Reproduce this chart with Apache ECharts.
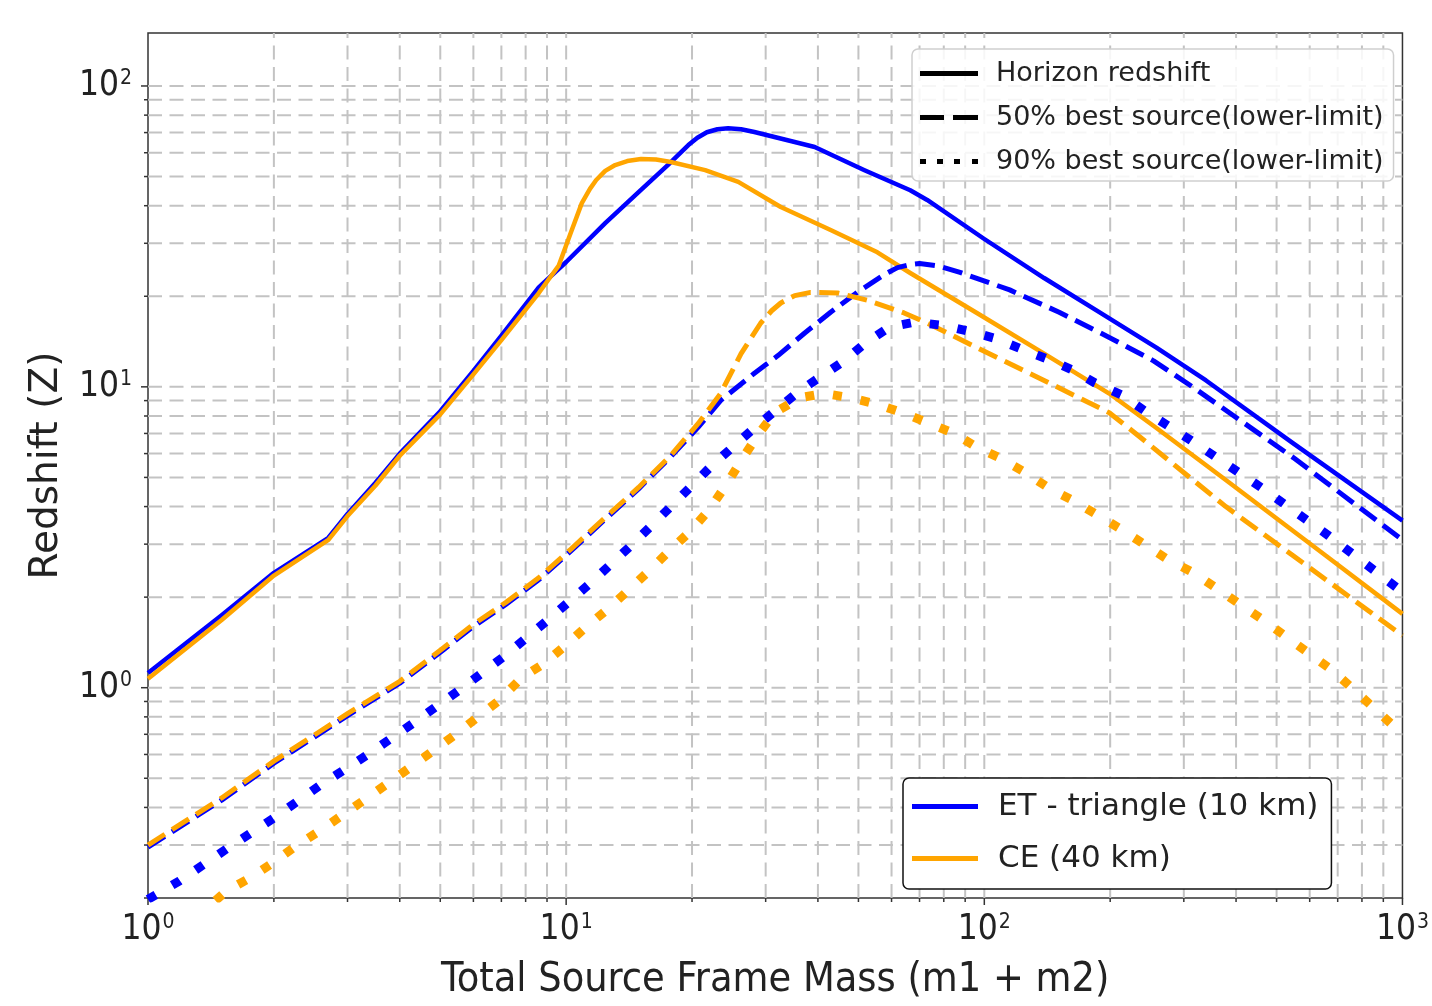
<!DOCTYPE html>
<html>
<head>
<meta charset="utf-8">
<script src="https://cdn.jsdelivr.net/npm/echarts@6/dist/echarts.min.js"></script>
<style>
html,body{margin:0;padding:0;background:#ffffff;}
#chart{width:1432px;height:1006px;}
</style>
</head>
<body>
<div id="chart"></div>
<script>
// ---------------- data ----------------
const X_MIN = 1, X_MAX = 1000, Y_MIN = 0.2, Y_MAX = 150;

// ET - triangle (10 km), horizon redshift (solid)
const etHorizonMass = [1, 1.5, 2, 2.7, 3, 3.5, 4, 5, 6, 7, 8.6, 10, 12.4, 14.9, 17.5, 19.6, 20.6, 21.7, 23, 24.4, 26.2, 28.2, 39.3, 51.7, 66.5, 73, 100, 139, 185, 258, 339, 547, 1000];
const etHorizonZ    = [1.12, 1.74, 2.41, 3.15, 3.78, 4.8, 6.0, 8.3, 11.3, 14.8, 21.4, 26, 35, 44.4, 54.6, 63.6, 67.3, 70.2, 71.8, 72.4, 71.8, 70.3, 62.7, 52.5, 45, 41.8, 31, 23, 18, 13.5, 10.5, 6.5, 3.59];

// CE (40 km), horizon redshift (solid)
const ceHorizonMass = [1, 1.5, 2, 2.7, 3, 3.5, 4, 5, 6, 7, 8.6, 9.15, 9.6, 10.3, 10.9, 11.4, 11.8, 12.4, 13.1, 14.0, 15.1, 16.4, 17.8, 21.5, 25.8, 32.6, 42.9, 55.5, 66.5, 96, 139, 199, 258, 378, 655, 1000];
const ceHorizonZ    = [1.07, 1.68, 2.36, 3.1, 3.72, 4.7, 5.9, 8.1, 11.0, 14.3, 20.5, 23.1, 25.3, 33, 40.8, 45.5, 48.7, 52.2, 54.6, 56.3, 57.2, 57.0, 55.9, 52.5, 48.0, 39.6, 33.2, 28, 23.9, 17.6, 12.9, 9.5, 7.3, 4.9, 2.75, 1.76];

// ET, 50% best source (dashed)
const et50Mass = [1, 1.5, 2, 3, 4, 5.1, 5.95, 7.17, 8.6, 10.3, 12.4, 14.9, 17.8, 20.7, 23.4, 28.2, 32.1, 37.2, 42.9, 49.7, 57.6, 62, 66.5, 70, 78, 87.5, 115, 151, 199, 254, 316, 547, 1000];
const et50Z    = [0.295, 0.423, 0.561, 0.808, 1.035, 1.34, 1.585, 1.89, 2.285, 2.86, 3.63, 4.58, 5.86, 7.35, 9.0, 11.1, 12.7, 15.1, 17.7, 20.6, 23.6, 24.9, 25.5, 25.7, 25.2, 24.0, 21.0, 17.7, 14.6, 12.2, 9.96, 5.83, 3.1];

// CE, 50% best source (dashed)
const ce50Mass = [1, 1.5, 2, 3, 4, 5.1, 5.95, 7.17, 8.6, 10.3, 12.4, 14.9, 17.8, 20.7, 23.4, 26.2, 29.2, 31.0, 32.6, 35.2, 38.4, 44.6, 52.5, 64.3, 73, 96, 139, 199, 230, 378, 655, 1000];
const ce50Z    = [0.30, 0.43, 0.57, 0.82, 1.05, 1.36, 1.61, 1.92, 2.32, 2.9, 3.68, 4.63, 5.92, 7.56, 9.5, 12.9, 16.3, 17.9, 19.0, 20.1, 20.6, 20.5, 19.4, 17.6, 16.3, 13.5, 10.5, 8.2, 7.0, 4.0, 2.29, 1.49];

// ET, 90% best source (dotted)
const et90Mass = [1, 1.19, 1.54, 2.0, 2.57, 3.32, 4.29, 5.54, 7.1, 9.0, 11.4, 14.3, 17.8, 22.2, 25, 28.2, 35.8, 46.2, 52, 59.3, 68, 80, 92, 106, 122, 141, 162, 184, 213, 241, 312, 459, 666, 1000];
const et90Z    = [0.198, 0.228, 0.291, 0.369, 0.472, 0.594, 0.759, 0.98, 1.27, 1.67, 2.22, 2.97, 4.0, 5.44, 6.3, 7.3, 9.6, 12.2, 14.0, 15.8, 16.4, 16.0, 15.3, 14.5, 13.4, 12.4, 11.4, 10.3, 9.4, 8.35, 6.64, 4.63, 3.2, 2.08];

// CE, 90% best source (dotted)
const ce90Mass = [1.45, 1.54, 1.75, 1.99, 2.26, 2.57, 3.32, 4.29, 5.44, 6.9, 7.83, 8.83, 9.96, 11.2, 12.6, 14.2, 15.9, 17.7, 19.9, 22.1, 24.2, 26.4, 28.7, 31.5, 36.2, 41.5, 47.9, 55.5, 64.3, 73.8, 84.7, 96, 109, 125, 143, 163, 211, 272, 318, 467, 681, 853, 962, 1000];
const ce90Z    = [0.196, 0.211, 0.233, 0.262, 0.298, 0.334, 0.427, 0.55, 0.70, 0.905, 1.08, 1.20, 1.38, 1.60, 1.83, 2.13, 2.47, 2.86, 3.33, 3.94, 4.75, 5.78, 6.9, 8.2, 9.2, 9.5, 9.2, 8.75, 8.17, 7.56, 7.0, 6.3, 5.8, 5.2, 4.6, 4.19, 3.38, 2.69, 2.40, 1.67, 1.14, 0.858, 0.736, 0.71];

// legend / axis texts
const styleLegendNames = ['Horizon redshift', '50% best source(lower-limit)', '90% best source(lower-limit)'];
const detectorNames = ['ET - triangle (10 km)', 'CE (40 km)'];
const xAxisTitle = 'Total Source Frame Mass (m1 + m2)';
const yAxisTitle = 'Redshift (Z)';

// gridline positions (1..9 x each decade)
const xGridValues = [];
[1, 10, 100].forEach(d => { for (let k = 1; k <= 9; k++) xGridValues.push(k * d); });
xGridValues.push(1000);
const yGridValues = [];
[0.1, 1, 10, 100].forEach(d => { for (let k = 1; k <= 9; k++) { const v = +(k * d).toPrecision(6); if (v >= Y_MIN && v <= Y_MAX) yGridValues.push(v); } });

// ---------------- chart ----------------
const BLUE = '#0000ff', ORANGE = '#ffa500';
const GRID_COLOR = '#c3c3c3';
const FONT = "'DejaVu Sans', sans-serif";
const FONT_C = "'DejaVu Sans Condensed', 'DejaVu Sans', sans-serif";
const TEXT = '#222222';

// legend icon shapes (line samples)
const ICON_SOLID  = 'path://M0,0H58V5H0Z';
const ICON_SOLID_WIDE = 'path://M0,0H66V5H0Z';
const ICON_DASHED = 'path://M0,0H24V5H0Z M33,0H58V5H33Z';
const ICON_DOTTED = 'path://M0,0H6V5H0Z M17,0H23V5H17Z M34,0H40V5H34Z M52,0H58V5H52Z';

function zip(a, b) { return a.map((m, i) => [m, b[i]]); }
function isMajor(v) { const l = Math.log10(v); return Math.abs(l - Math.round(l)) < 1e-6; }
function powLabel(v) { return '{b|10}{s|' + Math.round(Math.log10(v)) + '}'; }
const labelRich = {
  b: { fontSize: 35, fontFamily: FONT_C, color: TEXT },
  s: { fontSize: 21, fontFamily: FONT_C, color: TEXT, padding: [0, 0, 14, 1] }
};

function renderXGrid(params, api) {
  const v = api.value(0);
  const lo = api.coord([v, Y_MIN]);
  const hi = api.coord([v, Y_MAX]);
  const children = [];
  if (v > X_MIN * 1.0001 && v < X_MAX * 0.9999) {
    children.push({ type: 'line', silent: true,
      shape: { x1: lo[0], y1: lo[1], x2: hi[0], y2: hi[1] },
      style: { stroke: GRID_COLOR, lineWidth: 2, lineDash: [14, 7.5] } });
  }
  children.push({ type: 'line', silent: true,
    shape: { x1: lo[0], y1: lo[1], x2: lo[0], y2: lo[1] + (isMajor(v) ? 7 : 4) },
    style: { stroke: '#333', lineWidth: 1.5 } });
  return { type: 'group', children };
}
function renderYGrid(params, api) {
  const v = api.value(1);
  const lo = api.coord([X_MIN, v]);
  const hi = api.coord([X_MAX, v]);
  const children = [];
  if (v > Y_MIN * 1.0001 && v < Y_MAX * 0.9999) {
    children.push({ type: 'line', silent: true,
      shape: { x1: lo[0], y1: lo[1], x2: hi[0], y2: hi[1] },
      style: { stroke: GRID_COLOR, lineWidth: 2, lineDash: [14, 7.5] } });
  }
  children.push({ type: 'line', silent: true,
    shape: { x1: lo[0], y1: lo[1], x2: lo[0] - (isMajor(v) ? 7 : 4), y2: lo[1] },
    style: { stroke: '#333', lineWidth: 1.5 } });
  return { type: 'group', children };
}

function curve(name, mass, z, color, kind) {
  const ls = { color: color, width: 4.5, cap: 'butt', join: 'round' };
  if (kind === 'dashed') { ls.width = 5; ls.type = [20, 8.5]; }
  if (kind === 'dotted') { ls.width = 9; ls.type = [9, 19]; }
  return { type: 'line', name: name, data: zip(mass, z), symbol: 'none', showSymbol: false,
    smooth: false, clip: true, z: 3,
    lineStyle: ls, itemStyle: { color: color }, emphasis: { disabled: true } };
}
function legendDummy(name) {
  return { type: 'line', name: name, data: [], symbol: 'none', showSymbol: false,
    lineStyle: { color: '#000', width: 5 }, itemStyle: { color: '#000' } };
}

const chart = echarts.init(document.getElementById('chart'), null, { renderer: 'canvas' });
chart.setOption({
  animation: false,
  backgroundColor: '#ffffff',
  grid: { left: 148, right: 25, top: 33, bottom: 108, containLabel: false,
          show: true, borderColor: '#333', borderWidth: 1.5, backgroundColor: 'transparent' },
  xAxis: {
    type: 'log', logBase: 10, min: X_MIN, max: X_MAX,
    axisLine: { show: false }, axisTick: { show: false }, splitLine: { show: false },
    axisLabel: { formatter: powLabel, rich: labelRich, margin: 14, color: TEXT },
    name: xAxisTitle, nameLocation: 'middle', nameGap: 62,
    nameTextStyle: { fontSize: 41, fontFamily: FONT_C, color: TEXT }
  },
  yAxis: {
    type: 'log', logBase: 10, min: Y_MIN, max: Y_MAX,
    axisLine: { show: false }, axisTick: { show: false }, splitLine: { show: false },
    axisLabel: { formatter: powLabel, rich: labelRich, margin: 16, color: TEXT,
                 showMinLabel: false, showMaxLabel: false },
    name: yAxisTitle, nameLocation: 'middle', nameGap: 82, nameRotate: 90,
    nameTextStyle: { fontSize: 39, fontFamily: FONT, color: TEXT }
  },
  legend: [
    {
      data: [
        { name: styleLegendNames[0], icon: ICON_SOLID },
        { name: styleLegendNames[1], icon: ICON_DASHED },
        { name: styleLegendNames[2], icon: ICON_DOTTED }
      ],
      orient: 'vertical', left: 912, top: 49,
      itemWidth: 58, itemHeight: 5, itemGap: 17, selectedMode: false,
      backgroundColor: 'rgba(255,255,255,0.85)', borderColor: '#cfcfcf', borderWidth: 1.5, borderRadius: 6,
      padding: [11, 10, 6, 8],
      textStyle: { fontSize: 27, fontFamily: FONT, color: TEXT, padding: [0, 0, 0, 13] }
    },
    {
      data: [
        { name: detectorNames[0], icon: ICON_SOLID_WIDE },
        { name: detectorNames[1], icon: ICON_SOLID_WIDE }
      ],
      orient: 'vertical', left: 903, top: 778,
      itemWidth: 66, itemHeight: 5, itemGap: 21, selectedMode: false,
      backgroundColor: '#ffffff', borderColor: '#111', borderWidth: 1.5, borderRadius: 6,
      padding: [13, 13, 15, 9],
      textStyle: { fontSize: 31, fontFamily: FONT, color: TEXT, padding: [0, 0, 0, 15] }
    }
  ],
  series: [
    { type: 'custom', name: 'xgrid', renderItem: renderXGrid, data: xGridValues.map(v => [v, Y_MIN]),
      z: 1, silent: true, clip: false },
    { type: 'custom', name: 'ygrid', renderItem: renderYGrid, data: yGridValues.map(v => [X_MIN, v]),
      z: 1, silent: true, clip: false },
    curve(detectorNames[0], etHorizonMass, etHorizonZ, BLUE, 'solid'),
    curve(detectorNames[1], ceHorizonMass, ceHorizonZ, ORANGE, 'solid'),
    curve('ET 50%', et50Mass, et50Z, BLUE, 'dashed'),
    curve('CE 50%', ce50Mass, ce50Z, ORANGE, 'dashed'),
    curve('ET 90%', et90Mass, et90Z, BLUE, 'dotted'),
    curve('CE 90%', ce90Mass, ce90Z, ORANGE, 'dotted'),
    legendDummy(styleLegendNames[0]),
    legendDummy(styleLegendNames[1]),
    legendDummy(styleLegendNames[2])
  ]
});
</script>
</body>
</html>
